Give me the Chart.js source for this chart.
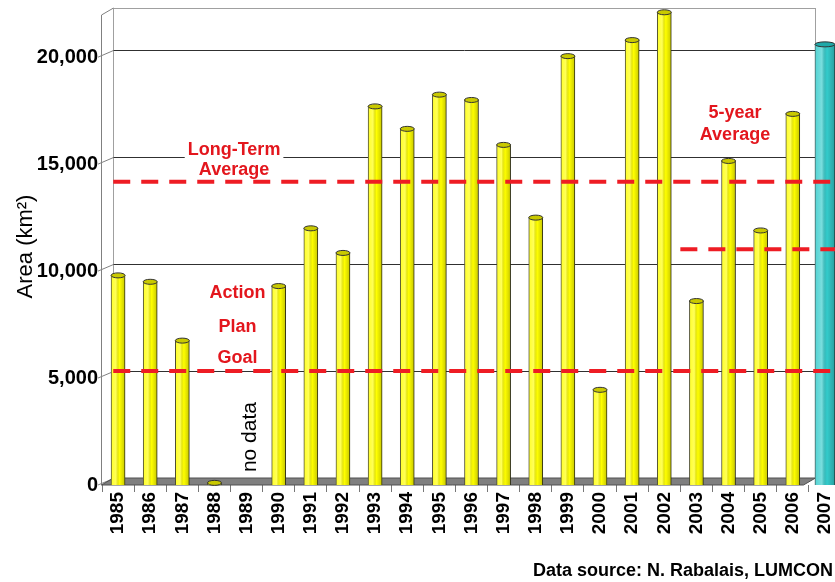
<!DOCTYPE html>
<html>
<head>
<meta charset="utf-8">
<script src="https://cdn.jsdelivr.net/npm/chart.js@4.4.1/dist/chart.umd.min.js"></script>
<style>
  html, body { margin: 0; padding: 0; background: #fff; overflow: hidden; }
  #wrap { position: relative; width: 845px; height: 582px; }
  #source {
    position: absolute; right: 2px; top: 560px;
    font: bold 18px "Liberation Sans", Arial, sans-serif; color: #000;
  }
</style>
</head>
<body>
<div id="wrap"><canvas id="hypoxia" width="845" height="582"></canvas></div>
<div id="source">Data source: N. Rabalais, LUMCON</div>
<script>
const years = [
  '1985', '1986', '1987', '1988', '1989', '1990', '1991', '1992',
  '1993', '1994', '1995', '1996', '1997', '1998', '1999', '2000',
  '2001', '2002', '2003', '2004', '2005', '2006', '2007',
];
// km2, 1989 had no survey
const areaKm2 = [
  9800, 9500, 6750, 100, null, 9300, 12000, 10850,
  17700, 16650, 18250, 18000, 15900, 12500, 20050, 4450,
  20800, 22100, 8600, 15150, 11900, 17350, 20600,
];
const yTicks = [0, 5000, 10000, 15000, 20000];
const longTermAvg = 13850;
const fiveYearAvg = 10700;
const actionPlanGoal = 5000;

const last = areaKm2.length - 1;
const pastYears = areaKm2.map((v, i) => (i === last ? null : v));
const latestYear = areaKm2.map((v, i) => (i === last ? v : null));

const FONT = '"Liberation Sans", Arial, sans-serif';
const RED = '#e3161d';
const DEPTH = 7; // 3d look: back wall offset in px

// reference lines, x given in category-index units
const refLines = [
  { v: longTermAvg, from: -0.15, to: 22.6 },
  { v: actionPlanGoal, from: -0.15, to: 22.6 },
  { v: fiveYearAvg, from: 17.5, to: 22.6 },
];

// text notes placed in category-index / front-value units
const notes = [
  { text: 'Long-Term', ix: 3.61, v: 15420 },
  { text: 'Average', ix: 3.61, v: 14490 },
  { text: 'Action', ix: 3.72, v: 8740 },
  { text: 'Plan', ix: 3.72, v: 7150 },
  { text: 'Goal', ix: 3.72, v: 5700 },
  { text: '5-year', ix: 19.2, v: 17150 },
  { text: 'Average', ix: 19.2, v: 16120 },
];

const wallPlugin = {
  id: 'wall',
  beforeDatasetsDraw(chart) {
    const { ctx, chartArea: a, scales } = chart;
    const x = scales.x, y = scales.y, yg = scales.yg;
    const fl = a.left - 0.5;
    const bl = Math.round(a.left + 11) + 0.5;
    const br = Math.round(x.getPixelForValue(21.7)) + 0.5;
    const y0 = y.getPixelForValue(0);
    const yb0 = yg.getPixelForValue(0);
    ctx.save();
    ctx.lineWidth = 1;
    // back wall
    ctx.strokeStyle = '#a0a0a0';
    ctx.strokeRect(bl, a.top + 0.5, br - bl, yb0 - a.top);
    // left wall
    ctx.strokeStyle = '#808080';
    ctx.beginPath();
    ctx.moveTo(fl, y0);
    ctx.lineTo(fl, a.top + DEPTH);
    ctx.lineTo(bl, a.top);
    ctx.stroke();
    // grid on back wall + slanted ticks
    yTicks.forEach(v => {
      const gy = Math.round(yg.getPixelForValue(v)) + 0.5;
      ctx.strokeStyle = '#808080';
      ctx.beginPath();
      ctx.moveTo(a.left - 4, y.getPixelForValue(v));
      ctx.lineTo(bl, gy);
      ctx.stroke();
      if (v > 0) {
        ctx.strokeStyle = '#303030';
        ctx.beginPath();
        ctx.moveTo(bl, gy);
        ctx.lineTo(br, gy);
        ctx.stroke();
      }
    });
    // floor
    ctx.fillStyle = '#7f7f7f';
    ctx.strokeStyle = '#505050';
    ctx.beginPath();
    ctx.moveTo(fl, y0);
    ctx.lineTo(bl, yb0);
    ctx.lineTo(br, yb0);
    ctx.lineTo(br - 12, y0);
    ctx.closePath();
    ctx.fill();
    ctx.stroke();
    // white boxes behind notes
    ctx.font = 'bold 18px ' + FONT;
    ctx.fillStyle = '#ffffff';
    notes.forEach(n => {
      const w = ctx.measureText(n.text).width + 6;
      const cx = x.getPixelForValue(n.ix);
      const by = y.getPixelForValue(n.v);
      ctx.fillRect(cx - w / 2, by - 15, w, 20);
    });
    ctx.restore();
  },
  afterDatasetDraw(chart, args) {
    if (args.meta.type !== 'bar') return;
    const ctx = chart.ctx;
    const top = args.index === 1 ? '#1fa8a8' : '#c9c900';
    ctx.save();
    args.meta.data.forEach(el => {
      if (!isFinite(el.y) || !isFinite(el.base) || el.base - el.y < 1) return;
      const x0 = el.x - el.width / 2;
      const g = ctx.createLinearGradient(x0, 0, x0 + el.width, 0);
      g.addColorStop(0, 'rgba(255,255,255,0.15)');
      g.addColorStop(0.35, 'rgba(255,255,255,0.35)');
      g.addColorStop(0.6, 'rgba(0,0,0,0)');
      g.addColorStop(1, 'rgba(0,0,0,0.22)');
      ctx.fillStyle = g;
      ctx.fillRect(x0, el.y, el.width, el.base - el.y);
      ctx.beginPath();
      ctx.ellipse(el.x, el.y, el.width / 2, 2.5, 0, 0, Math.PI * 2);
      ctx.fillStyle = top;
      ctx.fill();
      ctx.strokeStyle = '#333';
      ctx.lineWidth = 1;
      ctx.stroke();
    });
    ctx.restore();
  },
  afterDatasetsDraw(chart) {
    const { ctx, scales } = chart;
    const x = scales.x, y = scales.y, yg = scales.yg;
    ctx.save();
    // dashed reference lines
    ctx.strokeStyle = '#ee1c24';
    ctx.lineWidth = 4;
    ctx.setLineDash([17, 11]);
    refLines.forEach(l => {
      const ly = yg.getPixelForValue(l.v);
      ctx.beginPath();
      ctx.moveTo(x.getPixelForValue(l.from), ly);
      ctx.lineTo(x.getPixelForValue(l.to), ly);
      ctx.stroke();
    });
    ctx.setLineDash([]);
    ctx.font = 'bold 18px ' + FONT;
    ctx.fillStyle = RED;
    ctx.textAlign = 'center';
    ctx.textBaseline = 'alphabetic';
    notes.forEach(n => {
      ctx.fillText(n.text, x.getPixelForValue(n.ix), y.getPixelForValue(n.v));
    });
    // "no data" for 1989
    ctx.translate(x.getPixelForValue(4.1), y.getPixelForValue(2240));
    ctx.rotate(-Math.PI / 2);
    ctx.font = '21px ' + FONT;
    ctx.fillStyle = '#000';
    ctx.textBaseline = 'middle';
    ctx.fillText('no data', 0, 0);
    ctx.restore();
  },
};

const config = {
  type: 'bar',
  data: {
    labels: years,
    datasets: [
      {
        data: pastYears,
        backgroundColor: '#ffff00',
        borderColor: '#3a3a1a',
        borderWidth: 1,
        barThickness: 14,
        grouped: false,
      },
      {
        data: latestYear,
        backgroundColor: '#33cccc',
        borderColor: '#2a4a4a',
        borderWidth: 1,
        barThickness: 20,
        grouped: false,
      },
    ],
  },
  options: {
    responsive: false,
    animation: false,
    layout: { padding: { top: 8, right: 4, left: 0, bottom: 0 } },
    plugins: {
      legend: { display: false },
      tooltip: { enabled: false },
    },
    scales: {
      x: {
        offset: true,
        border: { display: false },
        grid: { drawOnChartArea: false, tickLength: 7, color: '#777', offset: true },
        ticks: {
          autoSkip: false,
          minRotation: 90,
          maxRotation: 90,
          padding: 0,
          color: '#000',
          font: { family: FONT, size: 19, weight: 'bold' },
        },
        afterFit(scale) {
          scale.height = 97;
          scale.paddingLeft = 0;
          scale.paddingRight = 0;
        },
      },
      y: {
        min: 0,
        max: 22300,
        border: { display: false },
        grid: { display: false, drawTicks: false },
        afterBuildTicks(scale) {
          scale.ticks = yTicks.map(v => ({ value: v }));
        },
        ticks: {
          padding: 4,
          color: '#000',
          font: { family: FONT, size: 20, weight: 'bold' },
          callback: v => v.toLocaleString('en-US'),
        },
        title: {
          display: true,
          text: 'Area (km²)',
          color: '#000',
          padding: { top: 13, bottom: 0 },
          font: { family: FONT, size: 22 },
        },
        afterFit(scale) {
          scale.width = 102;
          scale.paddingTop = 0;
          scale.paddingBottom = 0;
        },
      },
      yg: { display: false, min: -327, max: 22300 - 327 },
    },
  },
  plugins: [wallPlugin],
};

const hypoxiaChart = new Chart(document.getElementById('hypoxia'), config);
</script>
</body>
</html>
